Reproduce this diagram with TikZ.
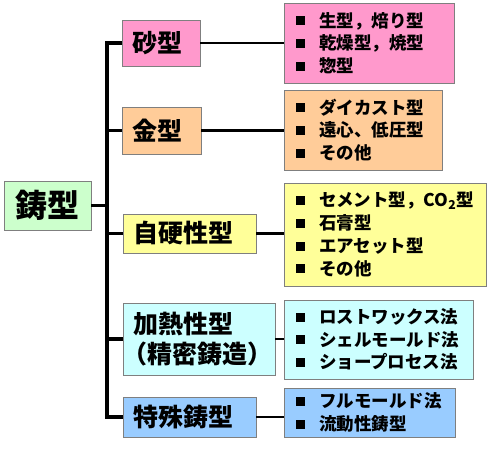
\documentclass[tikz,border=0pt]{standalone}
\usepackage{fontspec}
\setmainfont{Noto Sans CJK JP}
\usetikzlibrary{positioning}
\definecolor{rootgreen}{HTML}{CCFFCC}
\definecolor{sandpink}{HTML}{FF99CC}
\definecolor{metalorange}{HTML}{FFCC99}
\definecolor{selfyellow}{HTML}{FFFF99}
\definecolor{heatcyan}{HTML}{CCFFFF}
\definecolor{specialblue}{HTML}{99CCFF}
\definecolor{boxgray}{HTML}{7F7F7F}
\newcommand{\lstitem}{\rule[1.8pt]{9pt}{9pt}\hspace{14pt}}

\begin{document}
\begin{tikzpicture}[x=1pt, y=-1pt, every node/.style={outer sep=0pt},
  box/.style={draw=boxgray, line width=0.9pt, anchor=north west, inner ysep=0pt},
  catbox/.style={box, inner xsep=10pt, align=left,
    font=\bfseries\fontsize{25}{30}\selectfont},
  listbox/.style={box, inner xsep=12pt, align=left,
    font=\bfseries\fontsize{17.5}{22.8}\selectfont},
  trunkline/.style={line width=3.2pt},
  branchline/.style={line width=2.4pt}]

\useasboundingbox (0,0) rectangle (490,450);

% Root
\node[draw=boxgray, line width=0.9pt, fill=rootgreen, minimum width=87pt,
  minimum height=49pt, inner sep=0pt,
  font=\bfseries\fontsize{32}{36}\selectfont] (root) at (47.5,205.5) {鋳型};

% Categories
\node[catbox, fill=sandpink, minimum width=78pt, minimum height=46pt,
  text width=58pt] (sand) at (122,20) {砂型};
\node[catbox, fill=metalorange, minimum width=79pt, minimum height=47pt,
  text width=59pt] (metal) at (122,107) {金型};
\node[catbox, fill=selfyellow, minimum width=133pt, minimum height=39pt,
  text width=113pt] (selfhard) at (123,214) {自硬性型};
\node[catbox, fill=heatcyan, minimum width=152pt, minimum height=72pt,
  text width=132pt] (heat) at (123,303)
  {\raisebox{-3pt}{加熱性型}\\\raisebox{-3pt}{\hspace{-11pt}（精密鋳造）}};
\node[catbox, fill=specialblue, minimum width=133pt, minimum height=40pt,
  text width=113pt] (special) at (123,397) {特殊鋳型};

% Lists
\node[listbox, fill=sandpink, minimum width=170pt, minimum height=80pt,
  text width=146pt] (sandlist) at (284,3)
  {\lstitem 生型，焙り型\\\lstitem 乾燥型，焼型\\\lstitem 惣型};
\node[listbox, fill=metalorange, minimum width=158pt, minimum height=80pt,
  text width=134pt] (metallist) at (284,90)
  {\lstitem ダイカスト型\\\lstitem 遠心、低圧型\\\lstitem その他};
\node[listbox, fill=selfyellow, minimum width=202pt, minimum height=103pt,
  text width=178pt] (selfhardlist) at (284,183)
  {\lstitem セメント型，CO\textsubscript{2}型\\\lstitem 石膏型\\\lstitem エアセット型\\\lstitem その他};
\node[listbox, fill=heatcyan, minimum width=189pt, minimum height=79pt,
  text width=165pt] (heatlist) at (284,300)
  {\lstitem ロストワックス法\\\lstitem シェルモールド法\\\lstitem ショープロセス法};
\node[listbox, fill=specialblue, minimum width=171pt, minimum height=49pt,
  text width=147pt] (speciallist) at (284,388)
  {\lstitem フルモールド法\\\lstitem 流動性鋳型};

% Tree lines
\coordinate (trunk) at (107,0);
\draw[trunkline] (sand.west) -- (sand.west -| trunk)
  -- (special.west -| trunk) -- (special.west);
\draw[trunkline] (root.east) -- (root.east -| trunk);
\foreach \c in {metal,selfhard,heat}{
  \draw[trunkline] (\c.west) -- (\c.west -| trunk);
}
\foreach \c in {sand,metal,selfhard,heat,special}{
  \draw[branchline] (\c.east) -- (\c.east -| \c list.west);
}

\end{tikzpicture}
\end{document}
